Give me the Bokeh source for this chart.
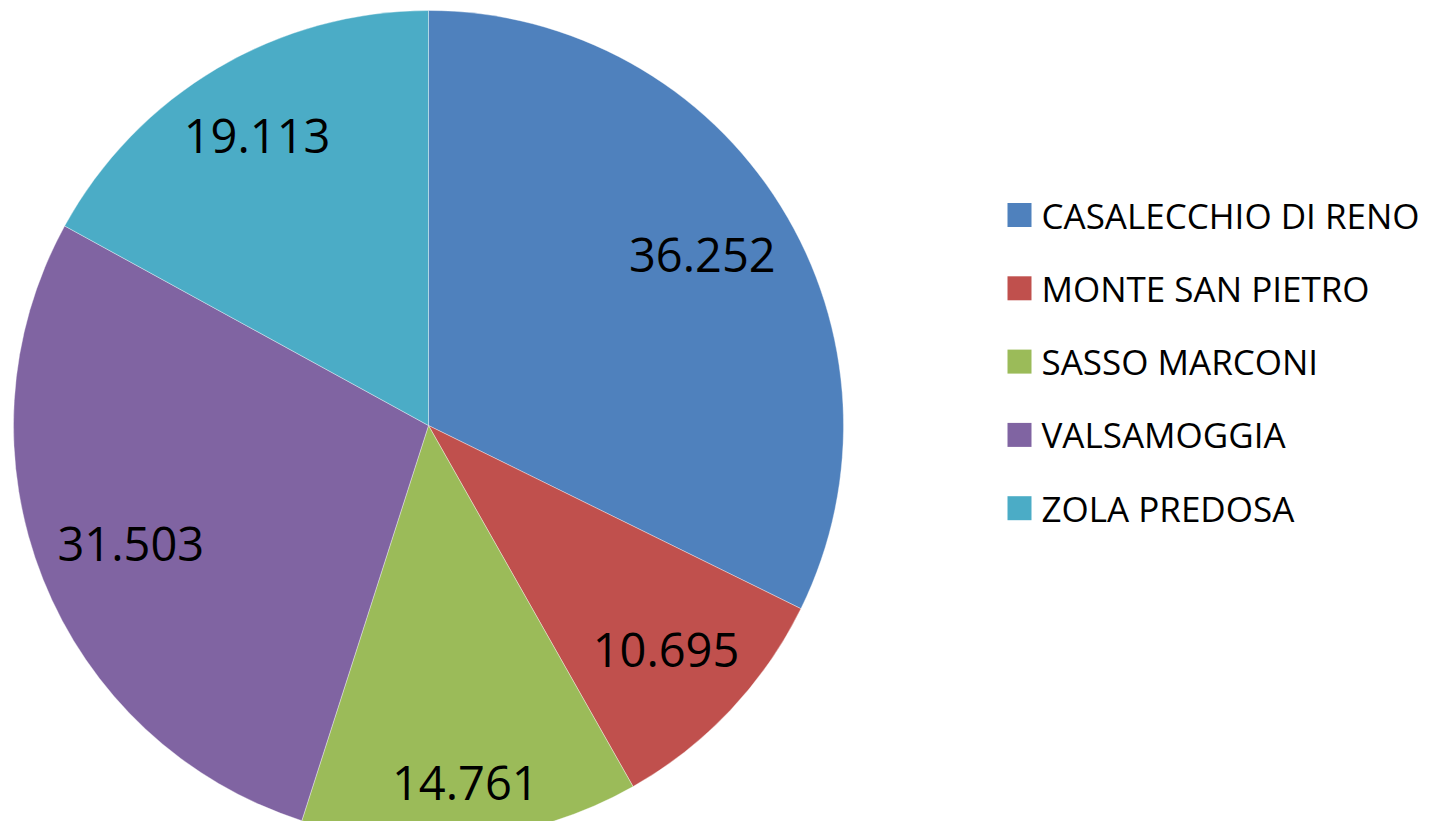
import math
from bokeh.plotting import figure
from bokeh.models import Range1d, ColumnDataSource
from bokeh.core.properties import value
from bokeh.embed import file_html
from bokeh.resources import INLINE

# ---- data ----
categories = ["CASALECCHIO DI RENO", "MONTE SAN PIETRO", "SASSO MARCONI", "VALSAMOGGIA", "ZOLA PREDOSA"]
values = [36252, 10695, 14761, 31503, 19113]
colors = ["#4F81BD", "#C0504D", "#9BBB59", "#8064A2", "#4BACC6"]

FONT = "Open Sans"
W, H = 1427, 821
p = figure(width=W, height=H, output_backend="svg", toolbar_location=None,
           x_range=Range1d(0, W), y_range=Range1d(837 - H, 837),
           min_border=0, outline_line_color=None)
p.axis.visible = False
p.grid.visible = False
p.background_fill_color = "white"
p.border_fill_color = "white"

# pie geometry (y measured upward from the image bottom)
cx, cy, R = 428, 837 - 425, 415
total = float(sum(values))
starts, ends = [], []
a = math.pi / 2
for v in values:
    span = v / total * 2 * math.pi
    starts.append(a)
    ends.append(a - span)
    a -= span

src = ColumnDataSource(dict(start=starts, end=ends, color=colors, cat=categories))
p.wedge(x=cx, y=cy, radius=R, start_angle="start", end_angle="end", direction="clock",
        fill_color="color", line_color="white", line_width=0.6, line_alpha=0.6, source=src)

# data labels, pushed outward along the slice bisector while the box stays inside
def fmt(v):
    return f"{v:,}".replace(",", ".")

hw, hh = 73, 25
lx, ly, lt = [], [], []
for s, e, v in zip(starts, ends, values):
    mid = (s + e) / 2
    d = 0.5 * R
    while d < R:
        px, py = cx + (d + 1) * math.cos(mid), cy + (d + 1) * math.sin(mid)
        ok = all(math.hypot(px + sx * hw - cx, py + sy * hh - cy) <= 0.96 * R
                 for sx in (-1, 1) for sy in (-1, 1))
        if not ok:
            break
        d += 1
    lx.append(cx + d * math.cos(mid))
    ly.append(cy + d * math.sin(mid))
    lt.append(fmt(v))

p.text(x=lx, y=ly, text=lt, text_font=value(FONT), text_font_size="47px",
       text_align="center", text_baseline="middle", text_color="black")

# legend
leg_x, leg_y0, leg_dy = 1019, 837 - 214.5, 73.3
ys = [leg_y0 - i * leg_dy for i in range(len(categories))]
p.scatter(x=[leg_x] * len(categories), y=ys, marker="square", size=24,
          fill_color=colors, line_color=None)
p.text(x=[leg_x + 22] * len(categories), y=ys, text=categories, text_font=value(FONT),
       text_font_size="35px", text_align="left", text_baseline="middle", text_color="black")

open("out.html", "w").write(file_html(p, INLINE))
